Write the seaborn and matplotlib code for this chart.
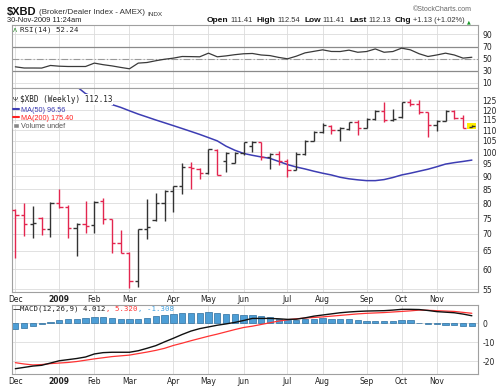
import matplotlib
matplotlib.use("Agg")
import matplotlib.pyplot as plt
from matplotlib.lines import Line2D
from matplotlib.patches import Patch, Rectangle
from matplotlib.ticker import FixedLocator, NullLocator
import numpy as np
import seaborn as sns

# weekly bars, week of 1-Dec-2008 .. week of 30-Nov-2009
weeks = np.arange(53)

opens = [77.7, 76.0, 73.0, 75.1, 71.4, 80.2, 78.7, 71.9, 73.2, 72.9,
         80.8, 74.6, 67.4, 64.5, 57.1, 71.6, 74.5, 80.2, 84.5, 86.2,
         93.5, 93.0, 91.2, 101.0, 96.3, 95.5, 99.8, 102.8, 104.5, 98.0,
         99.1, 96.0, 92.6, 99.1, 105.1, 109.0, 112.0, 110.1, 110.5, 114.0,
         111.1, 115.5, 119.5, 115.2, 116.4, 124.3, 123.4, 119.0, 112.3, 114.7,
         119.6, 116.2, 111.41]
highs = [77.9, 80.2, 79.1, 75.3, 80.5, 85.1, 79.4, 73.5, 80.8, 80.9,
         82.0, 74.8, 71.1, 64.6, 71.6, 81.4, 83.5, 84.7, 86.4, 95.2,
         95.6, 93.2, 101.5, 101.5, 99.9, 99.9, 104.6, 104.8, 104.6, 99.7,
         100.3, 97.0, 99.9, 105.4, 109.8, 113.4, 112.3, 111.3, 114.2, 115.0,
         116.0, 120.2, 124.3, 120.7, 124.5, 126.1, 125.6, 119.2, 115.0, 120.2,
         120.2, 117.3, 112.54]
lows = [62.9, 69.4, 68.9, 69.8, 69.1, 78.5, 68.9, 63.5, 70.4, 70.4,
        73.0, 64.5, 64.3, 55.3, 55.5, 68.6, 74.1, 74.1, 77.1, 83.2,
        85.1, 88.9, 91.0, 90.3, 91.5, 95.2, 98.7, 99.9, 96.6, 92.8,
        94.6, 89.8, 92.5, 98.9, 105.0, 108.5, 108.2, 105.0, 110.1, 107.9,
        111.0, 114.9, 114.2, 114.7, 116.0, 122.0, 117.8, 106.6, 109.8, 114.5,
        115.5, 111.0, 111.41]
closes = [76.0, 73.2, 73.5, 71.4, 80.2, 78.7, 71.9, 73.2, 72.6, 80.6,
          74.6, 67.4, 64.5, 57.1, 71.4, 72.2, 80.2, 84.5, 86.2, 93.5,
          93.1, 91.2, 101.3, 90.6, 99.6, 99.8, 104.3, 104.5, 98.0, 99.1,
          96.0, 92.4, 99.1, 105.1, 109.3, 112.7, 110.1, 111.1, 113.9, 111.1,
          115.5, 119.5, 115.2, 115.5, 124.3, 123.4, 119.0, 112.3, 114.7, 119.5,
          116.0, 111.0, 112.13]
ma50 = [148, 146, 143.5, 141, 138.5, 136, 134.5, 133, 129, 127,
        125, 123, 121.5, 119.7, 118, 116.5, 115, 113.6, 112.2, 110.8,
        109.4, 108, 106.5, 105, 102.6, 100.8, 99.4, 98.6, 97.9, 97.3,
        96.0, 94.7, 93.7, 92.9, 92.0, 91.2, 90.5, 89.6, 89.0, 88.6,
        88.3, 88.3, 88.7, 89.5, 90.5, 91.2, 92.0, 92.8, 93.8, 94.9,
        95.5, 96.0, 96.56]
rsi = [36.5, 34.5, 34.5, 34.4, 38.7, 37.5, 37.0, 37.0, 37.0, 42.6,
       40.0, 38.0, 35.5, 33.2, 42.6, 43.6, 46.5, 49.0, 50.8, 53.5,
       53.3, 53.0, 59.0, 53.0, 54.5, 56.5, 58.0, 58.5, 56.0, 55.0,
       52.0, 49.7, 54.0, 59.5, 62.0, 64.5, 61.8, 61.7, 64.0, 60.5,
       61.7, 66.0, 60.5, 61.7, 67.3, 64.5, 58.0, 53.5, 56.0, 59.0,
       56.0, 50.8, 52.24]
macd = [-24.0, -23.3, -22.6, -22.2, -21.0, -19.8, -19.2, -18.6, -17.8, -16.2,
        -15.5, -15.3, -15.3, -15.3, -14.5, -13.2, -11.8, -9.8, -7.9, -5.9,
        -4.1, -2.8, -1.9, -1.0, -0.3, 0.5, 1.5, 2.6, 2.6, 2.6,
        2.4, 2.1, 2.2, 2.9, 3.8, 4.4, 5.0, 5.6, 6.0, 6.3,
        6.5, 6.6, 6.7, 7.0, 7.4, 7.4, 7.3, 6.8, 6.2, 5.9,
        5.6, 4.9, 4.012]
signal = [-20.8, -21.5, -22.0, -21.8, -21.3, -21.0, -20.7, -20.2, -19.5, -18.8,
          -18.2, -17.6, -17.2, -16.8, -16.0, -15.2, -14.3, -13.2, -11.7, -10.5,
          -9.2, -8.0, -6.8, -5.7, -4.5, -3.3, -2.2, -1.5, -0.6, 0.3,
          1.2, 1.9, 2.4, 2.8, 3.1, 3.4, 3.8, 4.2, 4.6, 5.0,
          5.3, 5.5, 5.7, 6.0, 6.3, 6.6, 7.0, 6.9, 6.7, 6.5,
          6.3, 5.8, 5.32]
hist = [-3.2, -2.6, -1.2, -0.3, 0.8, 1.8, 2.3, 2.3, 2.6, 3.2,
        3.2, 2.6, 2.1, 2.1, 2.4, 2.6, 3.9, 4.4, 4.9, 5.3,
        5.3, 5.6, 6.2, 5.3, 4.9, 4.9, 4.4, 4.4, 4.0, 3.2,
        2.1, 1.8, 1.8, 2.1, 2.1, 2.6, 2.1, 2.1, 2.1, 1.8,
        1.4, 1.4, 1.4, 1.4, 1.8, 1.8, 0.4, -0.3, -0.5, -0.7,
        -0.9, -1.4, -1.308]

month_pos = [0, 5, 9, 13, 18, 22, 26, 31, 35, 40, 44, 48]
month_lab = ["Dec", "2009", "Feb", "Mar", "Apr", "May", "Jun",
             "Jul", "Aug", "Sep", "Oct", "Nov"]
price_ticks = list(range(55, 130, 5))
rsi_ticks = [10, 30, 50, 70, 90]
macd_ticks = [0, -10, -20]

sns.set_theme(style="white")
plt.rcParams["font.family"] = ["DejaVu Sans"]

W, H = 500, 388
fig = plt.figure(figsize=(W / 100, H / 100), dpi=100)


def box(top, bottom):
    return [12 / W, (H - bottom) / H, 466 / W, (bottom - top) / H]


ax_rsi = fig.add_axes(box(25, 88))
ax = fig.add_axes(box(88, 292), sharex=ax_rsi)
ax_macd = fig.add_axes(box(305, 374), sharex=ax_rsi)

red = "#e3264f"
dark = "#333333"
blue = "#3d3db3"
grid_c = "#dcdcdc"
edge_c = "#a0a0a0"

for a in (ax_rsi, ax, ax_macd):
    for s in a.spines.values():
        s.set_color(edge_c)
        s.set_linewidth(0.8)
    a.yaxis.tick_right()
    a.tick_params(axis="y", length=0, labelsize=5.5, pad=3, colors="#222")
    a.set_axisbelow(True)

ax.set_xlim(-0.38, 52.7)
ax.set_xticks(month_pos, month_lab)
ax.xaxis.set_minor_locator(FixedLocator(weeks))
for a in (ax_rsi, ax, ax_macd):
    a.grid(True, which="major", color=grid_c, lw=0.6)
    a.tick_params(axis="x", which="major", length=0, labelsize=5.5, pad=2.5, colors="#222")
    a.tick_params(axis="x", which="minor", length=1.5, color=edge_c, width=0.5)
ax_rsi.tick_params(axis="x", which="both", labelbottom=False)
for a in (ax, ax_macd):
    a.tick_params(axis="x", labelbottom=True)
    for lab in a.get_xticklabels():
        if lab.get_text() == "2009":
            lab.set_fontweight("bold")

# ---- RSI ----
ax_rsi.set_ylim(1.5, 105.5)
ax_rsi.set_yticks(rsi_ticks)
ax_rsi.axhline(70, color="#8a8a8a", lw=0.9)
ax_rsi.axhline(30, color="#8a8a8a", lw=0.9)
ax_rsi.axhline(50, color="#9a9a9a", lw=0.8, ls=(0, (6, 2, 1, 2)))
sns.lineplot(x=weeks, y=rsi, ax=ax_rsi, color="#3a3a3a", lw=0.9, legend=False)

# ---- price bars ----
ax.set_yscale("log")
ax.set_ylim(54.35, 132.2)
ax.set_yticks(price_ticks, [str(p) for p in price_ticks])
ax.yaxis.set_minor_locator(NullLocator())
ax.grid(True, which="major", color=grid_c, lw=0.6)

prev = np.r_[opens[0], closes[:-1]]
colors = np.where(np.array(closes) >= prev, dark, red)
last = weeks[-1]
ax.add_patch(Rectangle((last - 0.55, lows[-1] * 0.993), 1.05,
                       highs[-1] * 1.007 - lows[-1] * 0.993,
                       facecolor="#ffee00", edgecolor="none", zorder=2))
ax.vlines(weeks, lows, highs, colors=colors, lw=1.0, zorder=3)
ax.hlines(opens, weeks - 0.38, weeks, colors=colors, lw=1.0, zorder=3)
ax.hlines(closes, weeks, weeks + 0.38, colors=colors, lw=1.0, zorder=3)
sns.lineplot(x=weeks, y=ma50, ax=ax, color=blue, lw=1.1, legend=False)

handles = [Line2D([], [], color=blue, lw=1.5),
           Line2D([], [], color="#ff2020", lw=1.5),
           Patch(facecolor="#888888")]
leg = ax.legend(handles, ["MA(50) 96.56", "MA(200) 175.40", "Volume undef"],
                loc="upper left", bbox_to_anchor=(0.002, 0.908), frameon=False,
                prop={"family": "Liberation Sans", "size": 5.2},
                labelcolor=[blue, "#ff2020", "#555555"],
                handlelength=0.9, handleheight=0.6, handletextpad=0.25,
                labelspacing=0.15, borderpad=0, borderaxespad=0)
leg.set_zorder(6)

# ---- MACD ----
ax_macd.set_ylim(-26.8, 9.7)
ax_macd.set_yticks(macd_ticks, [str(t) for t in macd_ticks])
ax_macd.bar(weeks, hist, width=0.72, color="#4d9ed6", edgecolor="#2d6e9e", lw=0.5, zorder=2)
sns.lineplot(x=weeks, y=signal, ax=ax_macd, color="#ff3333", lw=0.9, legend=False)
sns.lineplot(x=weeks, y=macd, ax=ax_macd, color="#111111", lw=1.0, legend=False)

# ---- text overlay in pixel coordinates ----
hdr = fig.add_axes([0, 0, 1, 1], zorder=10)
hdr.set_xlim(0, W)
hdr.set_ylim(H, 0)
hdr.set_axis_off()


def run(x, y, parts):
    first, kw = parts[0]
    t = hdr.text(x, y, first, va="bottom", ha="left", **kw)
    for s, kw in parts[1:]:
        kw = dict(kw)
        gap = kw.pop("gap", 2)
        t = hdr.annotate(s, xy=(1, 0), xycoords=t, xytext=(gap, 0),
                         textcoords="offset points", va="bottom", ha="left", **kw)
    return t


sans = "Liberation Sans"
run(7, 16.5, [("$XBD", dict(fontsize=8, fontweight="bold", color="#111", family=sans)),
              ("(Broker/Dealer Index - AMEX)", dict(fontsize=5.8, color="#333", family=sans, gap=1.5)),
              ("INDX", dict(fontsize=4.6, color="#333", family=sans, gap=2))])
hdr.text(7, 24.5, "30-Nov-2009 11:24am", fontsize=5.4, va="bottom", color="#222", family=sans)
b = dict(fontsize=6, fontweight="bold", color="#111", family=sans, gap=3)
v = dict(fontsize=5.4, color="#333", family=sans, gap=1.2)
run(207, 24.5, [("Open", dict(fontsize=6, fontweight="bold", color="#111", family=sans)),
                ("111.41", v), ("High", b), ("112.54", v), ("Low", b), ("111.41", v),
                ("Last", b), ("112.13", v), ("Chg", b), ("+1.13 (+1.02%)", v),
                ("\u25b2", dict(fontsize=3.5, color="#1a9a2a", gap=1.5))])
hdr.text(472, 13, "\u00a9StockCharts.com", ha="right", va="bottom", fontsize=5, color="#666", family=sans)

mono = "DejaVu Sans Mono"
hdr.text(13, 29.5, "\u028c", fontsize=5, color="#2a8a2a", va="center")
hdr.text(20, 29.5, "RSI(14) 52.24", fontsize=5.3, family=mono, color="#222", va="center")

hdr.text(13, 99.5, "\u03a8", fontsize=4.5, color="#222", va="center")
hdr.text(20, 99.5, "$XBD (Weekly) 112.13", fontsize=5.5, family=mono, color="#222", va="center",
         bbox=dict(facecolor="white", edgecolor="none", pad=0.6))

hdr.text(12.5, 309.5, "\u2014", fontsize=5.5, color="#111", va="center")
run(20.5, 312.5, [("MACD(12,26,9) 4.012", dict(fontsize=5.3, family=mono, color="#222")),
                  (", 5.320", dict(fontsize=5.3, family=mono, color="#ff3333", gap=0)),
                  (", -1.308", dict(fontsize=5.3, family=mono, color="#3fa0e0", gap=0))])

fig.savefig("out.png", dpi=100)
